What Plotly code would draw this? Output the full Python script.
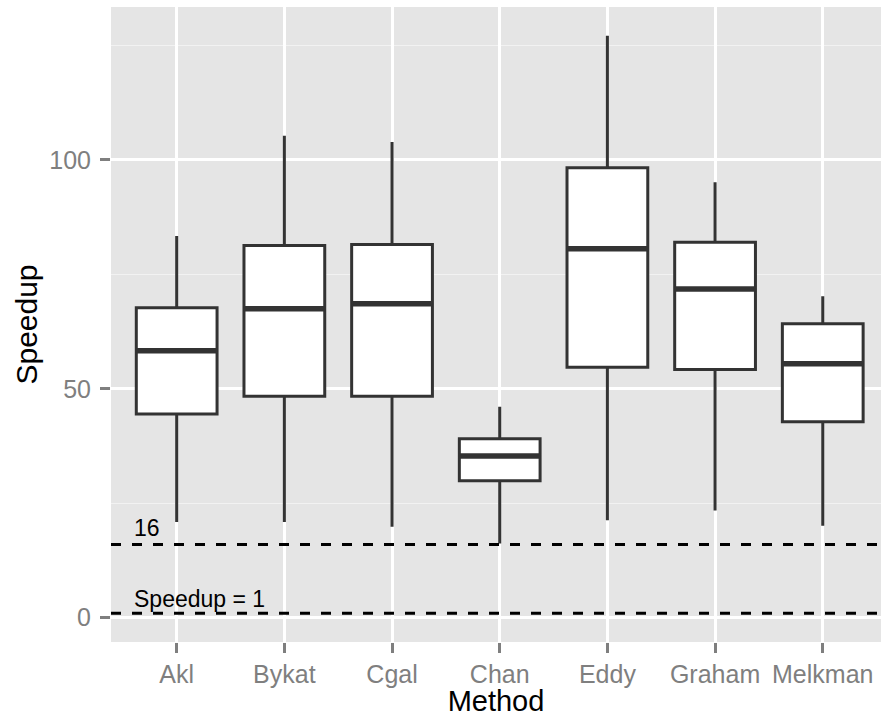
import plotly.graph_objects as go

methods = ["Akl", "Bykat", "Cgal", "Chan", "Eddy", "Graham", "Melkman"]
upper_whisker = [83.4, 105.3, 103.9, 46.1, 127.1, 95.1, 70.2]
q3 = [67.7, 81.3, 81.5, 39.1, 98.3, 82.0, 64.2]
median = [58.3, 67.5, 68.6, 35.3, 80.6, 71.8, 55.5]
q1 = [44.5, 48.4, 48.4, 29.9, 54.7, 54.2, 42.8]
lower_whisker = [20.9, 20.9, 19.9, 16.2, 21.3, 23.4, 20.1]

ref_lines = [16, 1]
ref_labels = ["16", "Speedup = 1"]

pos = list(range(len(methods)))
BOX_W = 0.75
DARK = "#333333"

fig = go.Figure()
fig.add_trace(go.Box(
    x=pos, q1=q1, median=median, q3=q3,
    lowerfence=lower_whisker, upperfence=upper_whisker,
    width=BOX_W, whiskerwidth=0,
    fillcolor="white", line=dict(color=DARK, width=3),
    boxpoints=False, showlegend=False, hoverinfo="skip",
))

mx, my = [], []
for i, m in zip(pos, median):
    mx += [i - BOX_W / 2, i + BOX_W / 2, None]
    my += [m, m, None]
fig.add_trace(go.Scatter(x=mx, y=my, mode="lines",
                         line=dict(color=DARK, width=5.5),
                         showlegend=False, hoverinfo="skip"))

for yv in ref_lines:
    fig.add_hline(y=yv, line=dict(color="black", width=3, dash="10px,11px"))

label_y = [19.7, 4.1]
for txt, yv in zip(ref_labels, label_y):
    fig.add_annotation(x=-0.418, y=yv, text=txt, showarrow=False,
                       xanchor="left", yanchor="middle",
                       font=dict(family="Liberation Sans, Arial, sans-serif", size=23, color="black"))

FONT = "Liberation Sans, Arial, Helvetica, sans-serif"
fig.update_layout(
    width=881, height=717,
    margin=dict(l=111, r=0, t=7, b=75),
    paper_bgcolor="white", plot_bgcolor="#E5E5E5",
    font=dict(family=FONT),
    showlegend=False,
    xaxis=dict(
        range=[-0.61, 6.541],
        tickmode="array", tickvals=pos, ticktext=methods,
        showgrid=True, gridcolor="white", gridwidth=2.5,
        zeroline=False, showline=False,
        ticks="outside", ticklen=10, tickwidth=2.5, tickcolor="#7F7F7F",
        tickfont=dict(size=25, color="#7F7F7F"),
        title=dict(text="Method", font=dict(size=29, color="black"), standoff=10),
        automargin=False,
    ),
    yaxis=dict(
        range=[-5.3, 133.4],
        tickmode="array", tickvals=[0, 50, 100],
        showgrid=True, gridcolor="white", gridwidth=2.5,
        zeroline=False, showline=False,
        ticks="outside", ticklen=10, tickwidth=2.5, tickcolor="#7F7F7F",
        tickfont=dict(size=25, color="#7F7F7F"),
        ticklabelstandoff=4,
        minor=dict(tickmode="array", tickvals=[25, 75, 125], showgrid=True,
                   gridcolor="#F2F2F2", gridwidth=1.2, ticks=""),
        title=dict(text="Speedup", font=dict(size=30, color="black"), standoff=2),
        automargin=False,
    ),
)

fig.write_html(
    "out.html",
    config={"displayModeBar": False},
    post_script="document.body.style.margin='0';document.body.style.padding='0';"
                "document.documentElement.style.overflow='hidden';",
)
